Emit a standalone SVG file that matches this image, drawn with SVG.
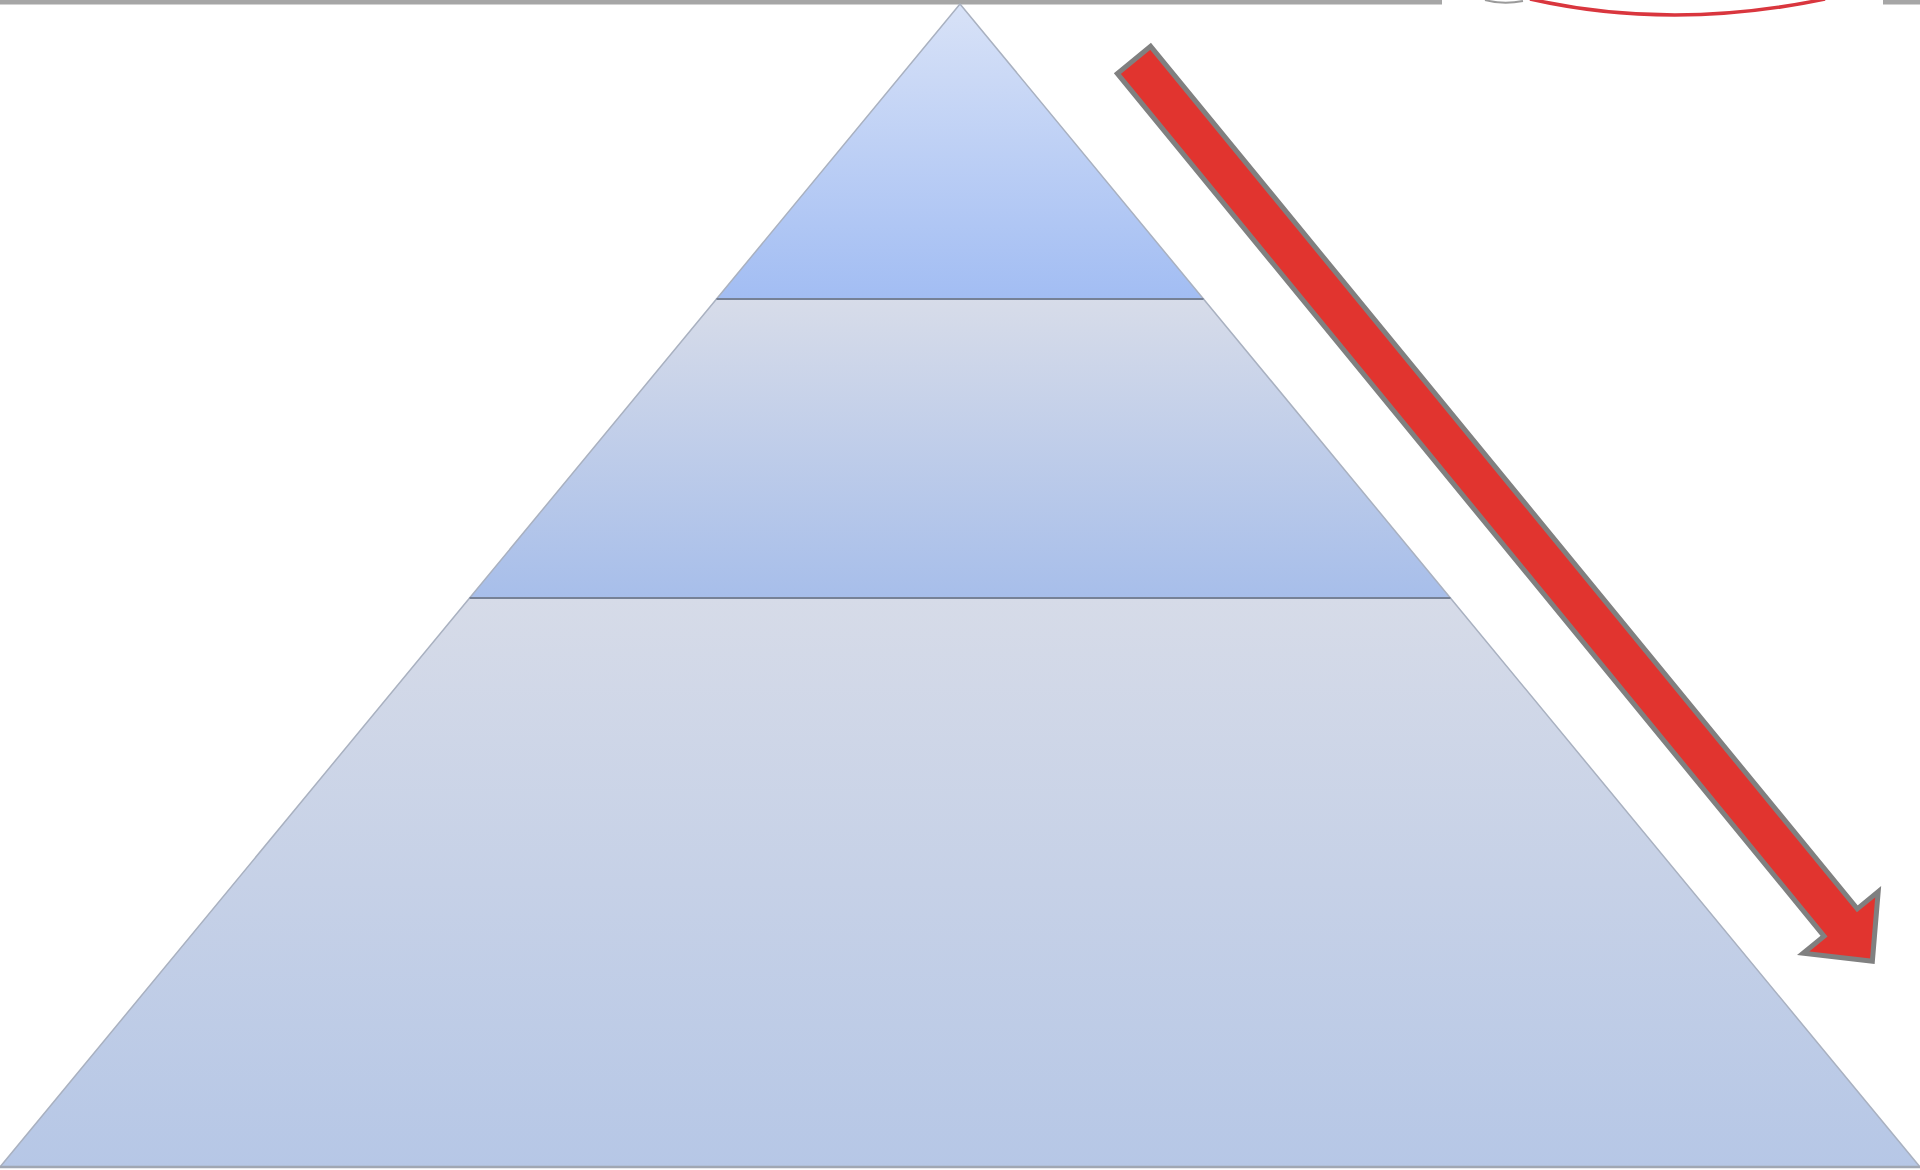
<svg xmlns="http://www.w3.org/2000/svg" width="1920" height="1170" viewBox="0 0 1920 1170">
  <style>
    .edge { stroke: #a9b1c0; stroke-width: 1.5; stroke-linejoin: round; }
    .divider { stroke: #768196; stroke-width: 2; }
    .rule { fill: #a6a6a6; }
    .arrow { fill: #e1342f; stroke: #808080; stroke-width: 5; stroke-linejoin: miter; }
  </style>
  <defs>
    <linearGradient id="gTop" x1="0" y1="0" x2="0" y2="1">
      <stop offset="0" stop-color="#d8e2f7"/>
      <stop offset="1" stop-color="#a2bdf3"/>
    </linearGradient>
    <linearGradient id="gMid" x1="0" y1="0" x2="0" y2="1">
      <stop offset="0" stop-color="#d7dce9"/>
      <stop offset="1" stop-color="#a7beea"/>
    </linearGradient>
    <linearGradient id="gBot" x1="0" y1="0" x2="0" y2="1">
      <stop offset="0" stop-color="#d6dbe8"/>
      <stop offset="1" stop-color="#b6c7e6"/>
    </linearGradient>
  </defs>
  <rect width="1920" height="1170" fill="#ffffff"/>

  <g id="top-rule">
    <rect class="rule" x="0" y="0" width="1442" height="4.5"/>
    <rect class="rule" x="1883" y="0" width="37" height="4.5"/>
    <path d="M1530,-1 Q1672,31 1825,-1" fill="none" stroke="#d9363e" stroke-width="3.5"/>
    <path d="M1485,0 Q1503,5 1523,1" fill="none" stroke="#9a9a9a" stroke-width="2"/>
  </g>

  <g id="pyramid-base">
    <polygon class="edge" points="469.6,598 1450.4,598 1920,1167 0,1167" fill="url(#gBot)"/>
    <line x1="0" y1="1167" x2="1920" y2="1167" stroke="#a0a7b3" stroke-width="2.5"/>
  </g>
  <g id="pyramid-middle">
    <polygon class="edge" points="716.5,299 1203.5,299 1450.4,598 469.6,598" fill="url(#gMid)"/>
  </g>
  <g id="pyramid-top">
    <polygon class="edge" points="960,4 1203.5,299 716.5,299" fill="url(#gTop)"/>
  </g>
  <g id="dividers">
    <line class="divider" x1="716.5" y1="299" x2="1203.5" y2="299"/>
    <line class="divider" x1="469.6" y1="598" x2="1450.4" y2="598"/>
  </g>

  <g id="connectors">
    <g id="red-arrow" transform="translate(1134,60) rotate(50.67)">
      <path class="arrow" d="M0,-21.5 L1115,-21.5 L1115,-48.5 L1165,0 L1115,48.5 L1115,21.5 L0,21.5 Z"/>
    </g>
  </g>
</svg>
